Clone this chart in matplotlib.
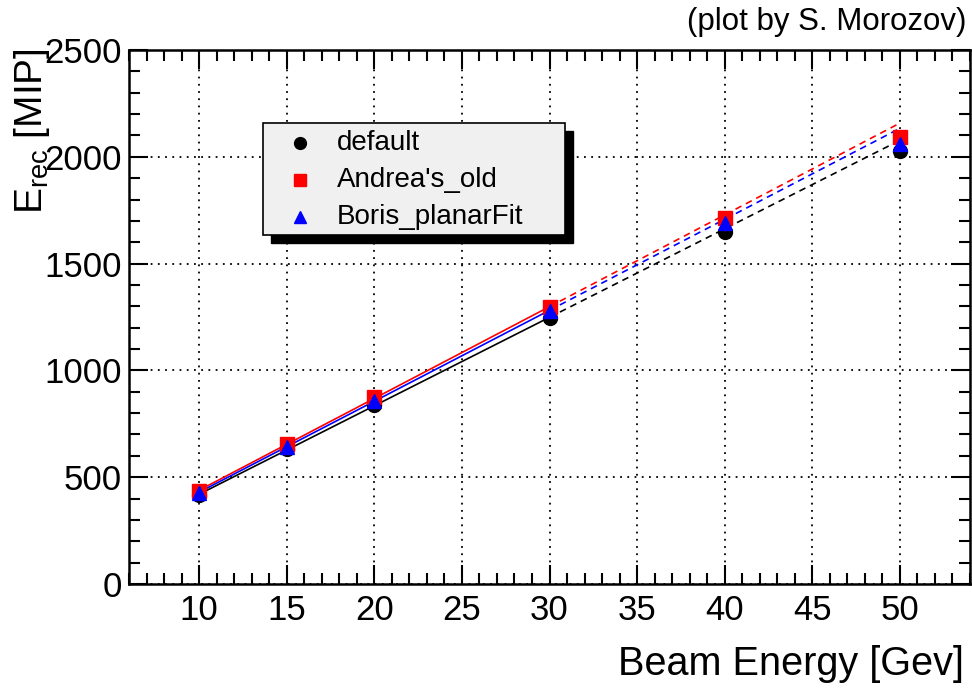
import matplotlib
matplotlib.use('Agg')
import matplotlib.pyplot as plt
import numpy as np
from matplotlib.lines import Line2D
from matplotlib.patches import Rectangle
from matplotlib.ticker import MultipleLocator

# ---- data ----
energy = [10, 15, 20, 30, 40, 50]
default = [415, 630, 840, 1245, 1650, 2025]
andrea_old = [435, 655, 875, 1295, 1715, 2095]
boris_planarfit = [428, 643, 858, 1280, 1690, 2060]
series_names = ["default", "Andrea's_old", "Boris_planarFit"]
fit_max = 30          # linear fit over 10..30 GeV
extrap_max = 50       # dashed extrapolation to 50 GeV
x_ticks = [10, 15, 20, 25, 30, 35, 40, 45, 50]
y_ticks = [0, 500, 1000, 1500, 2000, 2500]

plt.rcParams['font.family'] = ['Liberation Sans', 'DejaVu Sans']
plt.rcParams['mathtext.fontset'] = 'custom'
plt.rcParams['mathtext.rm'] = 'Liberation Sans'
plt.rcParams['mathtext.it'] = 'Liberation Sans'

W, H = 972, 691
fig = plt.figure(figsize=(W / 100, H / 100), dpi=100)
ax = fig.add_axes([129 / W, 1 - 584 / H, (970 - 129) / W, (584 - 50) / H])

styles = [
    dict(color='black', marker='o', ms=10),
    dict(color='#ff0000', marker='s', ms=10),
    dict(color='#0000ff', marker='^', ms=10),
]
all_series = [default, andrea_old, boris_planarfit]

x = np.array(energy, dtype=float)
for ys, st in zip(all_series, styles):
    y = np.array(ys, dtype=float)
    m = x <= fit_max
    p = np.polyfit(x[m], y[m], 1)
    xs = np.linspace(x.min(), fit_max, 50)
    ax.plot(xs, np.polyval(p, xs), color=st['color'], lw=1.2, zorder=3)
    xd = np.linspace(fit_max, extrap_max, 50)
    ax.plot(xd, np.polyval(p, xd), color=st['color'], lw=1.2,
            linestyle=(0, (4, 3)), zorder=3)

for ys, st in zip(all_series, styles):
    ax.plot(energy, ys, linestyle='none', marker=st['marker'], ms=st['ms'],
            color=st['color'], mec=st['color'], zorder=4)

ax.set_xlim(6, 54)
ax.set_ylim(0, 2500)
ax.set_xticks(x_ticks)
ax.set_yticks(y_ticks)
ax.xaxis.set_minor_locator(MultipleLocator(1))
ax.yaxis.set_minor_locator(MultipleLocator(100))
ax.tick_params(which='both', direction='in', top=True, right=True,
               width=1.5, labelsize=25)
ax.tick_params(which='major', length=14)
ax.tick_params(which='minor', length=8)
ax.tick_params(axis='x', which='major', pad=7)
ax.tick_params(axis='y', which='major', pad=5)
for s in ax.spines.values():
    s.set_linewidth(1.8)
ax.set_axisbelow(True)
ax.grid(which='major', color='black', linestyle=(0, (1, 3)), linewidth=1.3)

# ---- legend (ROOT style box with shadow) ----
def fx(px):
    return px / W

def fy(py):
    return 1 - py / H

bx0, bx1, by0, by1 = 263, 565, 123, 235
sh = 8
fig.add_artist(Rectangle((fx(bx0 + sh), fy(by1 + sh)), fx(bx1 - bx0), (by1 - by0) / H,
                         transform=fig.transFigure, facecolor='black', edgecolor='black', zorder=5))
fig.add_artist(Rectangle((fx(bx0), fy(by1)), fx(bx1 - bx0), (by1 - by0) / H,
                         transform=fig.transFigure, facecolor='#f0f0f0', edgecolor='black',
                         lw=1.2, zorder=6))
rows = [143, 180, 217]
leg_ms = [8.5, 8.5, 8]
for name, st, ry, lm in zip(series_names, styles, rows, leg_ms):
    fig.add_artist(Line2D([fx(300)], [fy(ry)], transform=fig.transFigure, marker=st['marker'],
                          color=st['color'], ms=lm, linestyle='none', zorder=7))
    fig.text(fx(337), fy(ry), name, fontsize=20, ha='left', va='center', zorder=7)

# ---- labels ----
fig.text(fx(964), fy(664), 'Beam Energy [Gev]', fontsize=28.5, ha='right', va='center')
fig.text(fx(32), fy(48), r'E$_{\mathrm{rec}}$ [MIP]', fontsize=28, rotation=90,
         ha='center', va='top')
fig.text(fx(966), fy(22), '(plot by S. Morozov)', fontsize=22.5, ha='right', va='center')

fig.savefig('out.png', dpi=100)
